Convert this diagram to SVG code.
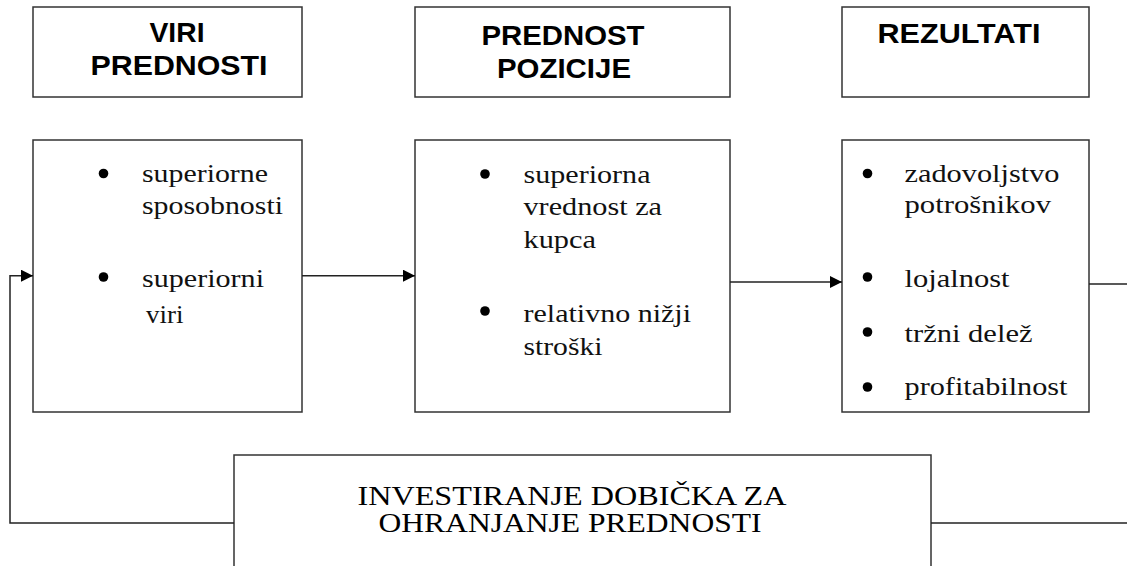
<svg xmlns="http://www.w3.org/2000/svg" width="1127" height="566" viewBox="0 0 1127 566">
  <style>
    .box { fill: #fff; stroke: #333; stroke-width: 1.5; }
    .line { fill: none; stroke: #222; stroke-width: 1.5; }
    .head { font-family: "Liberation Sans", Arial, sans-serif; font-weight: bold; font-size: 28px; fill: #000; }
    .item { font-family: "Liberation Serif", "Times New Roman", serif; font-size: 26px; fill: #111; }
    .big { font-family: "Liberation Serif", "Times New Roman", serif; font-size: 28px; fill: #000; }
    .dot { fill: #000; }
  </style>
  <defs>
    <marker id="arrow" viewBox="0 0 12 12" refX="12" refY="6" markerWidth="12" markerHeight="12" markerUnits="userSpaceOnUse" orient="auto">
      <path d="M0,0 L12,6 L0,12 Z" fill="#000"/>
    </marker>
  </defs>

  <!-- column headers -->
  <g id="head-viri">
    <rect class="box" x="33" y="7" width="269" height="90"/>
    <text class="head" x="149.5" y="41.7" textLength="55" lengthAdjust="spacingAndGlyphs">VIRI</text>
    <text class="head" x="90.5" y="75" textLength="177" lengthAdjust="spacingAndGlyphs">PREDNOSTI</text>
  </g>
  <g id="head-pozicija">
    <rect class="box" x="415" y="7" width="315" height="90"/>
    <text class="head" x="481.5" y="45" textLength="163" lengthAdjust="spacingAndGlyphs">PREDNOST</text>
    <text class="head" x="497" y="78.3" textLength="134" lengthAdjust="spacingAndGlyphs">POZICIJE</text>
  </g>
  <g id="head-rezultati">
    <rect class="box" x="842" y="7" width="247" height="90"/>
    <text class="head" x="877.5" y="43.3" textLength="163" lengthAdjust="spacingAndGlyphs">REZULTATI</text>
  </g>

  <!-- content boxes -->
  <g id="viri">
    <rect class="box" x="33" y="140" width="269" height="272"/>
    <circle class="dot" cx="103.5" cy="173.5" r="4.8"/>
    <text class="item" x="142" y="182.3" textLength="126" lengthAdjust="spacingAndGlyphs">superiorne</text>
    <text class="item" x="142" y="214" textLength="141" lengthAdjust="spacingAndGlyphs">sposobnosti</text>
    <circle class="dot" cx="103.5" cy="277" r="4.8"/>
    <text class="item" x="142" y="286.7" textLength="122" lengthAdjust="spacingAndGlyphs">superiorni</text>
    <text class="item" x="146" y="322.7" textLength="37.5" lengthAdjust="spacingAndGlyphs">viri</text>
  </g>
  <g id="pozicija">
    <rect class="box" x="415" y="140" width="315" height="272"/>
    <circle class="dot" cx="485" cy="174" r="4.8"/>
    <text class="item" x="523.5" y="182.7" textLength="127" lengthAdjust="spacingAndGlyphs">superiorna</text>
    <text class="item" x="523.5" y="215" textLength="138.5" lengthAdjust="spacingAndGlyphs">vrednost za</text>
    <text class="item" x="523.5" y="248.3" textLength="72.5" lengthAdjust="spacingAndGlyphs">kupca</text>
    <circle class="dot" cx="485" cy="311" r="4.8"/>
    <text class="item" x="523.5" y="321.7" textLength="167.5" lengthAdjust="spacingAndGlyphs">relativno nižji</text>
    <text class="item" x="523.5" y="355" textLength="79" lengthAdjust="spacingAndGlyphs">stroški</text>
  </g>
  <g id="rezultati">
    <rect class="box" x="842" y="140" width="247" height="272"/>
    <circle class="dot" cx="867.5" cy="173.5" r="4.8"/>
    <text class="item" x="904.5" y="182.3" textLength="155" lengthAdjust="spacingAndGlyphs">zadovoljstvo</text>
    <text class="item" x="904.5" y="213" textLength="146.5" lengthAdjust="spacingAndGlyphs">potrošnikov</text>
    <circle class="dot" cx="867.5" cy="277" r="4.8"/>
    <text class="item" x="904.5" y="287.3" textLength="105" lengthAdjust="spacingAndGlyphs">lojalnost</text>
    <circle class="dot" cx="867.5" cy="332" r="4.8"/>
    <text class="item" x="904.5" y="341.7" textLength="128" lengthAdjust="spacingAndGlyphs">tržni delež</text>
    <circle class="dot" cx="867.5" cy="387" r="4.8"/>
    <text class="item" x="904.5" y="395" textLength="163" lengthAdjust="spacingAndGlyphs">profitabilnost</text>
  </g>

  <!-- reinvestment box, running off the bottom edge -->
  <g id="investiranje">
    <rect class="box" x="234" y="455" width="697" height="150"/>
    <text class="big" x="357.5" y="505" textLength="429" lengthAdjust="spacingAndGlyphs">INVESTIRANJE DOBIČKA ZA</text>
    <text class="big" x="378.5" y="531.7" textLength="383" lengthAdjust="spacingAndGlyphs">OHRANJANJE PREDNOSTI</text>
  </g>

  <!-- connectors -->
  <g id="connectors">
    <line class="line" x1="302" y1="275.7" x2="415" y2="275.7" marker-end="url(#arrow)"/>
    <line class="line" x1="730" y1="282" x2="842" y2="282" marker-end="url(#arrow)"/>
    <line class="line" x1="1089" y1="284" x2="1127" y2="284"/>
    <line class="line" x1="931" y1="523" x2="1127" y2="523"/>
    <polyline class="line" points="234,523 10,523 10,275.7 33,275.7" marker-end="url(#arrow)"/>
  </g>
</svg>
